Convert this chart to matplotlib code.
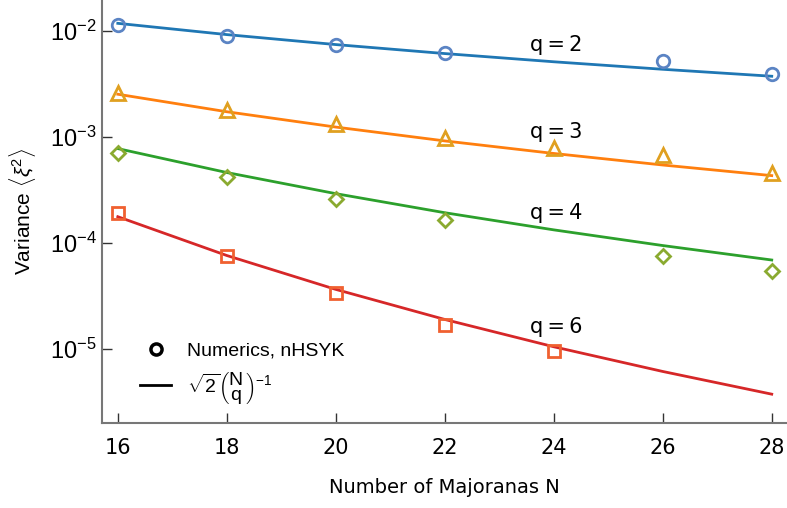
import matplotlib
matplotlib.use("Agg")
import matplotlib.pyplot as plt
from matplotlib.lines import Line2D

plt.rcParams["mathtext.fontset"] = "custom"
plt.rcParams["mathtext.rm"] = "Liberation Sans"
plt.rcParams["mathtext.it"] = "Liberation Sans:italic"
plt.rcParams["mathtext.bf"] = "Liberation Sans:bold"

# Theory curves at N = 16..28 (even)
N_line = [16, 18, 20, 22, 24, 26, 28]
line_q2 = [1.18e-2, 9.24e-3, 7.44e-3, 6.12e-3, 5.12e-3, 4.35e-3, 3.74e-3]
line_q3 = [2.53e-3, 1.73e-3, 1.24e-3, 9.18e-4, 6.99e-4, 5.44e-4, 4.32e-4]
line_q4 = [7.77e-4, 4.62e-4, 2.92e-4, 1.93e-4, 1.33e-4, 9.46e-5, 6.91e-5]
line_q6 = [1.77e-4, 7.62e-5, 3.65e-5, 1.90e-5, 1.05e-5, 6.14e-6, 3.75e-6]

# Numerics (markers)
N_q2 = [16, 18, 20, 22, 26, 28]
num_q2 = [1.15e-2, 9.0e-3, 7.3e-3, 6.2e-3, 5.2e-3, 3.9e-3]
N_q3 = [16, 18, 20, 22, 24, 26, 28]
num_q3 = [2.6e-3, 1.8e-3, 1.33e-3, 9.8e-4, 7.9e-4, 6.8e-4, 4.6e-4]
N_q4 = [16, 18, 20, 22, 26, 28]
num_q4 = [7.0e-4, 4.2e-4, 2.6e-4, 1.65e-4, 7.5e-5, 5.5e-5]
N_q6 = [16, 18, 20, 22, 24]
num_q6 = [1.9e-4, 7.5e-5, 3.4e-5, 1.7e-5, 9.6e-6]

q_labels = ["q = 2", "q = 3", "q = 4", "q = 6"]
label_x = [24.05, 24.05, 24.05, 24.05]
label_y = [7.4e-3, 1.11e-3, 1.92e-4, 1.6e-5]

x_ticks = [16, 18, 20, 22, 24, 26, 28]

line_colors = ["#1f77b4", "#ff7f0e", "#2ca02c", "#d62728"]
mk_colors = ["#5b84c4", "#e0a020", "#8aaa30", "#f06030"]
markers = ["o", "^", "D", "s"]
msizes = [9, 10, 7.5, 8]

fig = plt.figure(figsize=(7.87, 5.08), dpi=100)
ax = fig.add_axes([0.1296, 0.1673, 0.8704, 0.8327])

lines = [line_q2, line_q3, line_q4, line_q6]
Ns = [N_q2, N_q3, N_q4, N_q6]
nums = [num_q2, num_q3, num_q4, num_q6]
for i in range(4):
    ax.plot(N_line, lines[i], color=line_colors[i], lw=2, zorder=2)
    ax.plot(Ns[i], nums[i], linestyle="none", marker=markers[i], ms=msizes[i],
            mfc="none", mec=mk_colors[i], mew=2, zorder=3)
    ax.text(label_x[i], label_y[i], q_labels[i].replace(" ", "\u2009"), fontsize=15,
            ha="center", va="center", family=["DejaVu Sans"])

ax.set_yscale("log")
ax.set_xlim(15.71, 28.28)
ax.set_ylim(10**-5.698, 10**-1.708)
ax.set_xticks(x_ticks)
ax.set_xticklabels([str(v) for v in x_ticks], family="DejaVu Sans")
ax.set_yticks([1e-2, 1e-3, 1e-4, 1e-5])
ax.yaxis.set_minor_locator(matplotlib.ticker.NullLocator())
ax.set_yticklabels([r"$\mathrm{10}^{-2}$", r"$\mathrm{10}^{-3}$",
                    r"$\mathrm{10}^{-4}$", r"$\mathrm{10}^{-5}$"])
ax.tick_params(axis="x", direction="in", length=7, width=1, labelsize=15,
               color="#333333", pad=11)
ax.tick_params(axis="y", direction="in", length=7, width=1, labelsize=17,
               color="#333333", pad=4)
for s in ["top", "right"]:
    ax.spines[s].set_visible(False)
for s in ["left", "bottom"]:
    ax.spines[s].set_color("#777777")
    ax.spines[s].set_linewidth(1.5)

ax.set_xlabel("Number of Majoranas N", fontsize=14, labelpad=14, family="DejaVu Sans")
ax.set_ylabel(r"Variance $\langle\xi^2\rangle$", fontsize=15, labelpad=8,
              family="Liberation Sans")

handles = [Line2D([], [], ls="none", marker="o", mfc="none", mec="black", mew=2.5, ms=8),
           Line2D([], [], color="black", lw=2)]
ax.legend(handles, ["Numerics, nHSYK",
                    r"$\sqrt{2}\left(\genfrac{}{}{0}{0}{\mathrm{N}}{\mathrm{q}}\right)^{-1}$"],
          loc="lower left", bbox_to_anchor=(0.03, 0.0), frameon=False,
          prop={"family": "Liberation Sans", "size": 14},
          handlelength=1.6, labelspacing=0.5)

fig.savefig("out.png", dpi=100)
